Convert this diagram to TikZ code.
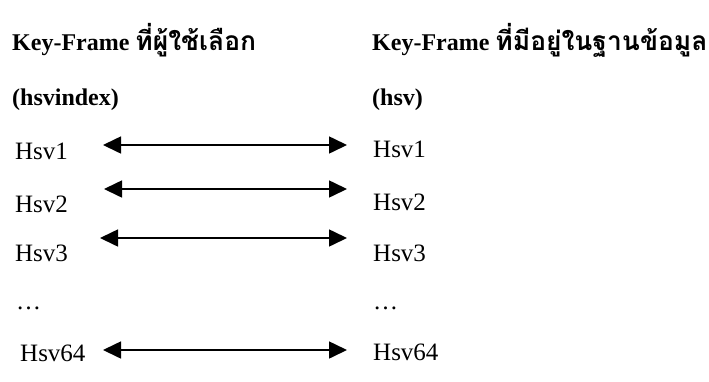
\documentclass[tikz,border=0pt]{standalone}
\usepackage{fontspec}
\setmainfont{Liberation Serif}
\newfontfamily\thaifont[Script=Thai,Scale=1.1]{Loma}
\usetikzlibrary{arrows.meta}
\tikzset{
  lbl/.style={anchor=base west, inner sep=0pt, font=\fontsize{25}{29}\selectfont},
  ttl/.style={anchor=base west, inner sep=0pt, font=\fontsize{24}{28}\selectfont\bfseries},
  link/.style={line width=1.6pt, {Triangle[length=18pt,width=17pt]}-{Triangle[length=18pt,width=17pt]}}
}
\begin{document}
\begin{tikzpicture}[x=1pt,y=-1pt]
\useasboundingbox (0,0) rectangle (709,381);
\node[ttl] (t1) at (12,50) {Key-Frame {\thaifont ที่ผู้ใช้เลือก}};
\node[ttl] (t2) at (372,50) {Key-Frame {\thaifont ที่มีอยู่ในฐานข้อมูล}};
\node[ttl] (s1) at (12,105) {(hsvindex)};
\node[ttl] (s2) at (372,105) {(hsv)};
\node[lbl] (l1) at (15,159) {Hsv1};
\node[lbl] (l2) at (15,212) {Hsv2};
\node[lbl] (l3) at (15,261) {Hsv3};
\node[lbl] (l4) at (16,309) {\dots};
\node[lbl] (l5) at (20,361) {Hsv64};
\node[lbl] (r1) at (373,157) {Hsv1};
\node[lbl] (r2) at (373,210) {Hsv2};
\node[lbl] (r3) at (373,261) {Hsv3};
\node[lbl] (r4) at (373,309) {\dots};
\node[lbl] (r5) at (373,360) {Hsv64};
\coordinate (a1) at (103,145); \coordinate (b1) at (347,145);
\coordinate (a2) at (104,189); \coordinate (b2) at (347,189);
\coordinate (a3) at (100,238); \coordinate (b3) at (347,238);
\coordinate (a5) at (103,350); \coordinate (b5) at (347,350);
\draw[link] (a1) -- (b1);
\draw[link] (a2) -- (b2);
\draw[link] (a3) -- (b3);
\draw[link] (a5) -- (b5);
\end{tikzpicture}
\end{document}
